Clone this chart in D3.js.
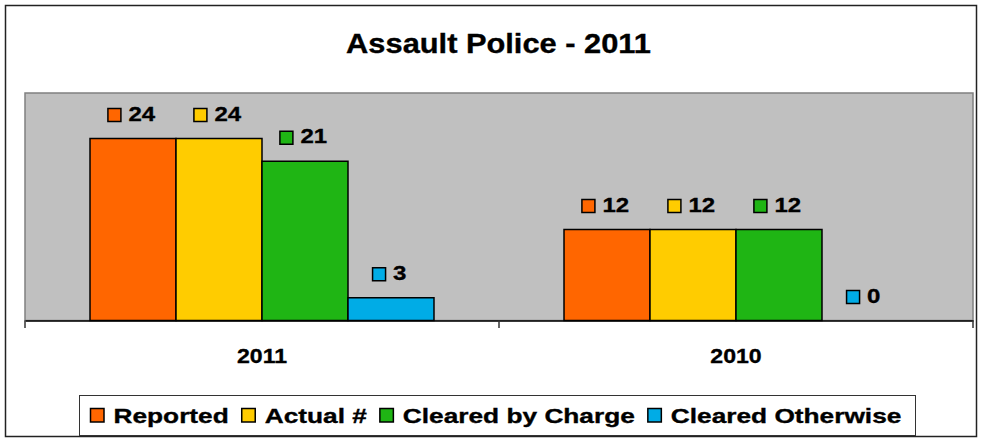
<!DOCTYPE html>
<html>
<head>
<meta charset="utf-8">
<script src="https://cdn.jsdelivr.net/npm/d3@7"></script>
<style>
  html, body { margin: 0; padding: 0; background: #fff; }
  svg { display: block; }
  text { font-family: "Liberation Sans", Arial, sans-serif; font-weight: bold; fill: #000; stroke: #000; stroke-width: 0.35px; }
</style>
</head>
<body>
<script>
const title = "Assault Police - 2011";
const categories = ["2011", "2010"];
const seriesNames = ["Reported", "Actual #", "Cleared by Charge", "Cleared Otherwise"];
const reported = [24, 12];
const actual = [24, 12];
const clearedByCharge = [21, 12];
const clearedOtherwise = [3, 0];
const seriesValues = [reported, actual, clearedByCharge, clearedOtherwise];
const colors = ["#FF6600", "#FFCC00", "#1FB514", "#00ACE6"];
const yMax = 30;

const W = 981, H = 439;
const plot = { left: 25, right: 973, top: 93, bottom: 320.5 };

const svg = d3.select("body").append("svg").attr("width", W).attr("height", H);

function stretch(sel, k, anchor) {
  sel.each(function() {
    const t = d3.select(this);
    const w = this.getComputedTextLength() * k;
    const x = +t.attr("x");
    t.attr("textLength", w).attr("lengthAdjust", "spacingAndGlyphs").attr("text-anchor", "start");
    if (anchor === "middle") t.attr("x", x - w / 2);
    this.__w = w;
  });
  return sel;
}

// outer border
svg.append("rect").attr("x", 5.5).attr("y", 5.5).attr("width", 971).attr("height", 431)
  .attr("fill", "#fff").attr("stroke", "#222").attr("stroke-width", 1.5);

// title
svg.append("text").attr("x", 498.5).attr("y", 52.5).style("font-size", "27.5px").text(title)
  .call(stretch, 1.12, "middle");

// scales
const x0 = d3.scaleBand().domain(categories).range([plot.left, plot.right]).padding(0);
const x1 = d3.scaleBand().domain(seriesNames).range([0, x0.bandwidth()]).paddingInner(0).paddingOuter(0.756);
const y = d3.scaleLinear().domain([0, yMax]).range([plot.bottom, plot.top]);

// plot area
svg.append("rect").attr("x", plot.left).attr("y", plot.top)
  .attr("width", plot.right - plot.left).attr("height", plot.bottom - plot.top)
  .attr("fill", "#C0C0C0").attr("stroke", "#808080").attr("stroke-width", 1.5);

// bars
const data = [];
categories.forEach((c, ci) => seriesNames.forEach((s, si) => data.push({ c, s, si, v: seriesValues[si][ci] })));

svg.append("g").selectAll("rect").data(data.filter(d => d.v > 0)).join("rect")
  .attr("x", d => x0(d.c) + x1(d.s))
  .attr("y", d => y(d.v))
  .attr("width", x1.bandwidth())
  .attr("height", d => y(0) - y(d.v))
  .attr("fill", d => colors[d.si])
  .attr("stroke", "#000").attr("stroke-width", 1.5);

// x axis
const xAxis = d3.axisBottom(x0).tickSize(0).tickPadding(0).tickFormat(() => "");
const ax = svg.append("g").attr("transform", `translate(0,${plot.bottom})`).call(xAxis);
ax.select(".domain").attr("stroke", "#000").attr("stroke-width", 1.5);
const boundaries = [plot.left, ...categories.map(c => x0(c) + x0.bandwidth())];
svg.append("g").selectAll("line").data(boundaries).join("line")
  .attr("x1", d => d).attr("x2", d => d).attr("y1", plot.bottom).attr("y2", plot.bottom + 7.5)
  .attr("stroke", "#333").attr("stroke-width", 1.5);
svg.append("g").selectAll("text").data(categories).join("text")
  .attr("x", d => x0(d) + x0.bandwidth() / 2).attr("y", 362.5)
  .style("font-size", "21px").text(d => d)
  .call(stretch, 1.1, "middle");

// data labels
const lbl = svg.append("g").selectAll("g").data(data).join("g");
lbl.each(function(d) {
  const g = d3.select(this);
  const top = y(d.v);
  const cx = x0(d.c) + x1(d.s) + x1.bandwidth() / 2 - 1.5;
  const t = g.append("text").attr("x", 0).attr("y", top - 18).style("font-size", "20.5px").text(d.v);
  stretch(t, 1.17);
  const tw = t.node().__w;
  const total = 13 + 7.5 + tw;
  const left = cx - total / 2;
  g.append("rect").attr("x", left).attr("y", top - 30).attr("width", 13).attr("height", 13)
    .attr("fill", colors[d.si]).attr("stroke", "#000").attr("stroke-width", 1.5);
  t.attr("x", left + 13 + 7.5);
});

// legend
svg.append("rect").attr("x", 79.5).attr("y", 395.5).attr("width", 836).attr("height", 40)
  .attr("fill", "#fff").attr("stroke", "#333").attr("stroke-width", 1);
let lx = 90.5;
seriesNames.forEach((s, i) => {
  svg.append("rect").attr("x", lx).attr("y", 408.5).attr("width", 13.5).attr("height", 13.5)
    .attr("fill", colors[i]).attr("stroke", "#000").attr("stroke-width", 1.5);
  lx += 13.5 + 9.5;
  const t = svg.append("text").attr("x", lx).attr("y", 422.5).style("font-size", "21px").text(s);
  stretch(t, 1.25);
  lx += t.node().__w + 13;
});
</script>
</body>
</html>
